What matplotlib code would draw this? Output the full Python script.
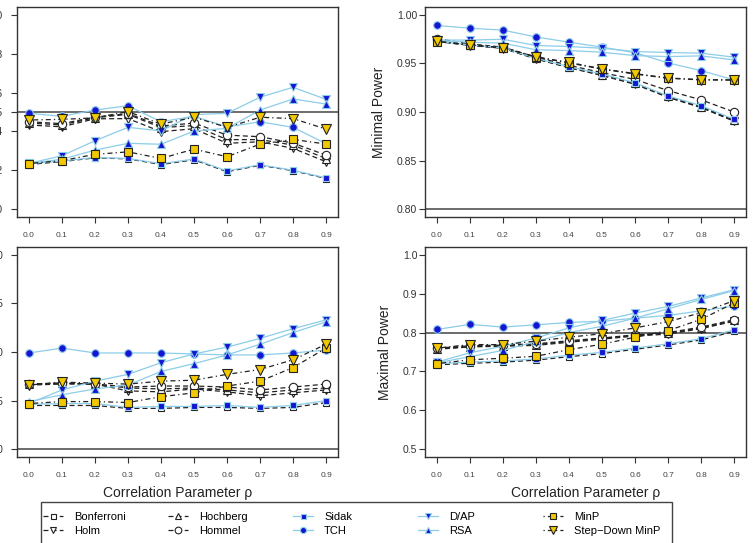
"""
Minimal / maximal FWER and power of multiple testing procedures
vs. correlation parameter rho (2x2 panels, R-style)
Output: out.png
"""
import matplotlib
matplotlib.use("Agg")
import matplotlib.pyplot as plt
from matplotlib.lines import Line2D
from matplotlib.patches import Rectangle

plt.rcParams["font.family"] = ["Liberation Sans", "DejaVu Sans"]

# Data
rho = [0.0, 0.1, 0.2, 0.3, 0.4, 0.5, 0.6, 0.7, 0.8, 0.9]
rho_labels = ["0.0", "0.1", "0.2", "0.3", "0.4", "0.5", "0.6", "0.7", "0.8", "0.9"]
methods = ["Bonferroni", "Holm", "Hochberg", "Hommel", "Sidak",
           "TCH", "D/AP", "RSA", "MinP", "Step\u2212Down MinP"]

# top left: minimal FWER
fw_min_bonf = [0.0230, 0.0245, 0.0264, 0.0259, 0.0230, 0.0254, 0.0193, 0.0226, 0.0198, 0.0158]
fw_min_holm = [0.0433, 0.0424, 0.0465, 0.0466, 0.0399, 0.0414, 0.0339, 0.0347, 0.0313, 0.0244]
fw_min_hoch = [0.0443, 0.0434, 0.0470, 0.0488, 0.0420, 0.0430, 0.0358, 0.0358, 0.0330, 0.0260]
fw_min_homm = [0.0450, 0.0440, 0.0474, 0.0492, 0.0428, 0.0443, 0.0381, 0.0373, 0.0340, 0.0278]
fw_min_sidak = [0.0235, 0.0248, 0.0266, 0.0261, 0.0234, 0.0258, 0.0197, 0.0229, 0.0200, 0.0161]
fw_min_tch = [0.0493, 0.0478, 0.0510, 0.0532, 0.0450, 0.0478, 0.0423, 0.0450, 0.0421, 0.0337]
fw_min_dap = [0.0236, 0.0275, 0.0352, 0.0421, 0.0403, 0.0487, 0.0493, 0.0576, 0.0627, 0.0565]
fw_min_rsa = [0.0236, 0.0257, 0.0304, 0.0339, 0.0334, 0.0402, 0.0416, 0.0510, 0.0567, 0.0541]
fw_min_minp = [0.0235, 0.0250, 0.0282, 0.0295, 0.0261, 0.0309, 0.0270, 0.0335, 0.0359, 0.0335]
fw_min_sdminp = [0.0459, 0.0462, 0.0470, 0.0502, 0.0438, 0.0473, 0.0421, 0.0473, 0.0466, 0.0412]

# top right: minimal power
pw_min_bonf = [0.9725, 0.9685, 0.9655, 0.9545, 0.9455, 0.9375, 0.9285, 0.9150, 0.9045, 0.8905]
pw_min_holm = [0.9728, 0.9688, 0.9658, 0.9550, 0.9460, 0.9380, 0.9290, 0.9155, 0.9050, 0.8910]
pw_min_hoch = [0.9730, 0.9690, 0.9660, 0.9553, 0.9463, 0.9385, 0.9295, 0.9160, 0.9055, 0.8915]
pw_min_homm = [0.9755, 0.9700, 0.9668, 0.9565, 0.9480, 0.9405, 0.9335, 0.9220, 0.9125, 0.9000]
pw_min_sidak = [0.9727, 0.9690, 0.9660, 0.9553, 0.9465, 0.9390, 0.9300, 0.9165, 0.9065, 0.8925]
pw_min_tch = [0.9890, 0.9862, 0.9842, 0.9772, 0.9718, 0.9667, 0.9610, 0.9505, 0.9426, 0.9330]
pw_min_dap = [0.9740, 0.9740, 0.9748, 0.9684, 0.9673, 0.9656, 0.9622, 0.9612, 0.9605, 0.9564]
pw_min_rsa = [0.9735, 0.9718, 0.9708, 0.9640, 0.9632, 0.9615, 0.9580, 0.9570, 0.9577, 0.9536]
pw_min_minp = [0.9725, 0.9688, 0.9660, 0.9565, 0.9505, 0.9440, 0.9390, 0.9347, 0.9330, 0.9328]
pw_min_sdminp = [0.9728, 0.9690, 0.9662, 0.9568, 0.9510, 0.9445, 0.9395, 0.9350, 0.9333, 0.9330]

# bottom left: maximal FWER
fw_max_bonf = [0.0545, 0.0545, 0.0545, 0.0542, 0.0542, 0.0543, 0.0543, 0.0542, 0.0543, 0.0548]
fw_max_holm = [0.0566, 0.0567, 0.0567, 0.0560, 0.0559, 0.0562, 0.0559, 0.0555, 0.0558, 0.0561]
fw_max_hoch = [0.0567, 0.0568, 0.0567, 0.0563, 0.0562, 0.0563, 0.0561, 0.0558, 0.0561, 0.0563]
fw_max_homm = [0.0567, 0.0568, 0.0567, 0.0564, 0.0565, 0.0565, 0.0564, 0.0561, 0.0564, 0.0567]
fw_max_sidak = [0.0546, 0.0547, 0.0547, 0.0543, 0.0544, 0.0544, 0.0545, 0.0543, 0.0545, 0.0550]
fw_max_tch = [0.0599, 0.0604, 0.0599, 0.0599, 0.0599, 0.0598, 0.0597, 0.0597, 0.0599, 0.0602]
fw_max_dap = [0.0547, 0.0561, 0.0570, 0.0577, 0.0589, 0.0598, 0.0605, 0.0614, 0.0624, 0.0633]
fw_max_rsa = [0.0549, 0.0556, 0.0562, 0.0566, 0.0580, 0.0588, 0.0597, 0.0608, 0.0620, 0.0631]
fw_max_minp = [0.0547, 0.0549, 0.0549, 0.0548, 0.0554, 0.0558, 0.0565, 0.0570, 0.0584, 0.0604]
fw_max_sdminp = [0.0566, 0.0569, 0.0568, 0.0567, 0.0570, 0.0571, 0.0577, 0.0582, 0.0592, 0.0608]

# bottom right: maximal power
pw_max_bonf = [0.717, 0.721, 0.724, 0.729, 0.738, 0.746, 0.757, 0.768, 0.781, 0.803]
pw_max_holm = [0.757, 0.763, 0.765, 0.767, 0.775, 0.783, 0.791, 0.796, 0.810, 0.829]
pw_max_hoch = [0.758, 0.764, 0.766, 0.769, 0.777, 0.785, 0.793, 0.798, 0.812, 0.831]
pw_max_homm = [0.760, 0.766, 0.768, 0.771, 0.779, 0.786, 0.794, 0.800, 0.814, 0.833]
pw_max_sidak = [0.720, 0.724, 0.727, 0.732, 0.742, 0.749, 0.760, 0.771, 0.784, 0.807]
pw_max_tch = [0.808, 0.821, 0.814, 0.820, 0.826, 0.829, 0.837, 0.844, 0.856, 0.868]
pw_max_dap = [0.724, 0.748, 0.765, 0.786, 0.812, 0.831, 0.850, 0.867, 0.889, 0.910]
pw_max_rsa = [0.722, 0.738, 0.754, 0.777, 0.800, 0.816, 0.837, 0.861, 0.885, 0.908]
pw_max_minp = [0.720, 0.730, 0.734, 0.739, 0.756, 0.770, 0.788, 0.805, 0.834, 0.876]
pw_max_sdminp = [0.760, 0.769, 0.769, 0.778, 0.788, 0.797, 0.812, 0.828, 0.851, 0.882]

# y axes
fw_min_ticks = [0.00, 0.02, 0.04, 0.05, 0.06, 0.08, 0.10]
pw_min_ticks = [0.80, 0.85, 0.90, 0.95, 1.00]
fw_max_ticks = [0.050, 0.055, 0.060, 0.065, 0.070]
pw_max_ticks = [0.5, 0.6, 0.7, 0.8, 0.9, 1.0]

# Styles
BLUE = "#1414D2"
LBLUE = "#8CCDE8"
GOLD = "#F2C800"
DARK = "#222222"
DASH = (0, (4, 2.5))
DOTDASH = (0, (1, 2.5, 4, 2.5))

style = {
    "Bonferroni": dict(color=DARK, ls=DASH, marker="s", mfc="white", mec=DARK, ms=4.5),
    "Holm": dict(color=DARK, ls=DASH, marker="v", mfc="white", mec=DARK, ms=6),
    "Hochberg": dict(color=DARK, ls=DASH, marker="^", mfc="white", mec=DARK, ms=6),
    "Hommel": dict(color=DARK, ls=DASH, marker="o", mfc="white", mec=DARK, ms=6),
    "Sidak": dict(color=LBLUE, ls="-", marker="s", mfc=BLUE, mec=LBLUE, ms=4.5),
    "TCH": dict(color=LBLUE, ls="-", marker="o", mfc=BLUE, mec=LBLUE, ms=5.5),
    "D/AP": dict(color=LBLUE, ls="-", marker="v", mfc=BLUE, mec=LBLUE, ms=6),
    "RSA": dict(color=LBLUE, ls="-", marker="^", mfc=BLUE, mec=LBLUE, ms=6),
    "MinP": dict(color=DARK, ls=DOTDASH, marker="s", mfc=GOLD, mec=DARK, ms=5.5),
    "Step\u2212Down MinP": dict(color=DARK, ls=DOTDASH, marker="v", mfc=GOLD, mec=DARK, ms=6.5),
}

panels = [
    # (left px, top px, series, ylim, ticks, tick fmt, hline, ylabel, label pad)
    (17, 7, [fw_min_bonf, fw_min_holm, fw_min_hoch, fw_min_homm, fw_min_sidak,
             fw_min_tch, fw_min_dap, fw_min_rsa, fw_min_minp, fw_min_sdminp],
     (-0.004, 0.104), fw_min_ticks, "{:.2f}", 0.05, None, 6),
    (425, 7, [pw_min_bonf, pw_min_holm, pw_min_hoch, pw_min_homm, pw_min_sidak,
              pw_min_tch, pw_min_dap, pw_min_rsa, pw_min_minp, pw_min_sdminp],
     (0.792, 1.008), pw_min_ticks, "{:.2f}", 0.80, "Minimal Power", 1.5),
    (17, 247, [fw_max_bonf, fw_max_holm, fw_max_hoch, fw_max_homm, fw_max_sidak,
               fw_max_tch, fw_max_dap, fw_max_rsa, fw_max_minp, fw_max_sdminp],
     (0.0492, 0.0708), fw_max_ticks, "{:.3f}", 0.05, None, 6),
    (425, 247, [pw_max_bonf, pw_max_holm, pw_max_hoch, pw_max_homm, pw_max_sidak,
                pw_max_tch, pw_max_dap, pw_max_rsa, pw_max_minp, pw_max_sdminp],
     (0.48, 1.02), pw_max_ticks, "{:.1f}", 0.80, "Maximal Power", 1.5),
]

W, H = 753, 543
fig = plt.figure(figsize=(W / 100, H / 100), dpi=100)

for left, top, series, ylim, ticks, fmt, hline, ylabel, ypad in panels:
    ax = fig.add_axes([left / W, 1 - (top + 210) / H, 321 / W, 210 / H])
    ax.axhline(hline, color="#444444", lw=1.1, zorder=1)
    for name, vals in zip(methods, series):
        s = style[name]
        ax.plot(rho, vals, color=s["color"], ls=s["ls"], lw=0.9,
                marker=s["marker"], ms=s["ms"], mfc=s["mfc"], mec=s["mec"],
                mew=0.8, zorder=2)
    ax.set_xlim(-0.036, 0.936)
    ax.set_ylim(*ylim)
    ax.set_xticks(rho)
    ax.set_xticklabels(rho_labels)
    ax.set_yticks(ticks)
    ax.set_yticklabels([fmt.format(t) for t in ticks])
    ax.tick_params(axis="x", length=4, width=0.8, pad=7, labelsize=6,
                   labelcolor="#444444", color="#333333")
    ax.tick_params(axis="y", length=4, width=0.8, pad=ypad, labelsize=7.5,
                   labelcolor="#333333", color="#333333")
    for sp in ax.spines.values():
        sp.set_color("#333333")
        sp.set_linewidth(1.0)
    if ylabel:
        ax.set_ylabel(ylabel, fontsize=10, color="#222222", labelpad=8)
    if top > 100:
        ax.set_xlabel("Correlation Parameter \u03c1", fontsize=10,
                      color="#222222", labelpad=5)

# Legend: five equal-width columns inside one frame (cut by bottom edge)
fig.patches.append(Rectangle((41 / W, -0.05), 631 / W, 0.05 + (H - 502) / H,
                             transform=fig.transFigure, fill=False,
                             edgecolor="#444444", lw=1.0))
for col in range(5):
    names = methods[2 * col:2 * col + 2]
    handles = []
    for name in names:
        s = style[name]
        handles.append(Line2D([], [], color=s["color"], ls=s["ls"], lw=0.9,
                              marker=s["marker"], ms=s["ms"] * 0.8, mfc=s["mfc"],
                              mec=s["mec"], mew=0.8))
    fig.legend(handles, names, loc="upper left",
               bbox_to_anchor=((43 + 125 * col) / W, 1 - 512 / H),
               fontsize=8, frameon=False, handlelength=1.8, handletextpad=1.0,
               borderpad=0, borderaxespad=0, labelspacing=0.35)

plt.savefig("out.png", dpi=100)
